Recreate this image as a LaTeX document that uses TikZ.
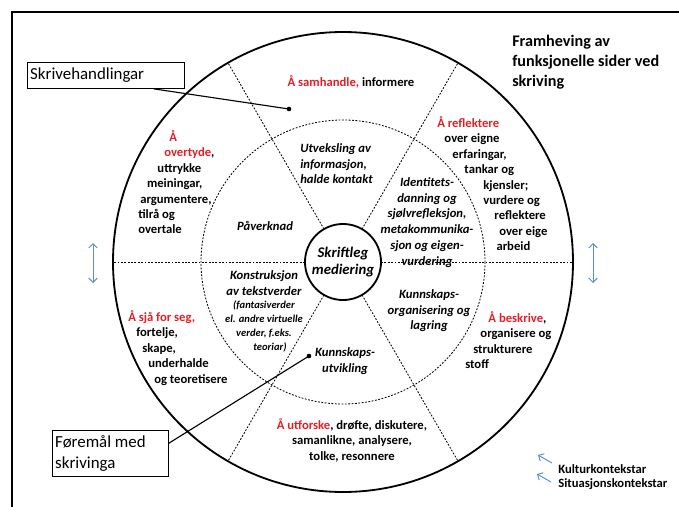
\documentclass[tikz,border=0pt]{standalone}
\usepackage{fontspec}
\setmainfont{Carlito}
\usetikzlibrary{calc}
\usetikzlibrary{positioning}
\usetikzlibrary{arrows.meta}
\definecolor{actred}{RGB}{228,30,38}
\definecolor{ctxblue}{RGB}{92,142,204}
\newcommand{\act}[1]{\textcolor{actred}{#1}}
\newcommand{\smallaim}{\fontsize{7.5}{9.6}\selectfont}

\begin{document}
\begin{tikzpicture}[x=0.025cm, y=-0.025cm,
        sector/.style={font=\bfseries\fontsize{9}{11}\selectfont, inner sep=0pt},
        aim/.style={font=\bfseries\itshape\fontsize{9}{11.3}\selectfont, inner sep=0pt},
        callout/.style={draw, line width=0.6pt, font=\fontsize{12}{14.5}\selectfont,
            align=flush left, inner sep=2pt},
        divider/.style={line width=0.6pt, dash pattern=on 1.3pt off 1.1pt},
        ctxarrow/.style={ctxblue, line width=0.7pt,
            {Straight Barb[length=3pt,width=6pt]}-{Straight Barb[length=3pt,width=6pt]}},
        ctxtip/.style={ctxblue, line width=0.7pt, -{Straight Barb[length=3pt,width=6pt]}},
        legend/.style={font=\bfseries\fontsize{9}{11}\selectfont, inner sep=0pt, anchor=base west}]
        \useasboundingbox (0,0) rectangle (679,507);

        % Frame
        \draw[line width=1.2pt] (12,507) -- (12,12) -- (679,12);

        % Circles
        \node[circle, draw, line width=1.3pt, minimum size=1.9cm, inner sep=0pt,
            font=\bfseries\itshape\fontsize{10.5}{12}\selectfont, align=center]
            (hub) at (343,262) {Skriftleg\\mediering};
        \draw[line width=1.3pt] (hub) circle[radius=230];
        \draw[divider] (hub) circle[radius=142];

        % Sector borders
        \foreach \a in {0,60,120,180,240,300} {
            \draw[divider] ($(hub)+(\a:38)$) -- ($(hub)+(\a:230)$);
        }

        % Writing acts (outer ring)
        \node[sector, anchor=center] (share) at (351,82) {\act{Å samhandle,} informere};
        \node[sector, align=left, anchor=north west] (persuade) at (138,130) {%
            \hspace*{0.78cm}\act{Å}\\
            \hspace*{0.65cm}\act{overtyde},\\
            \hspace*{0.48cm}uttrykke\\
            \hspace*{0.22cm}meiningar,\\
            \hspace*{0.05cm}argumentere,\\
            tilrå og\\
            overtale};
        \node[sector, align=left, anchor=north west] (reflect) at (437,116) {%
            \act{Å reflektere}\\
            \hspace*{0.18cm}over eigne\\
            \hspace*{0.38cm}erfaringar,\\
            \hspace*{0.68cm}tankar og\\
            \hspace*{1.15cm}kjensler;\\
            \hspace*{1.15cm}vurdere og\\
            \hspace*{1.43cm}reflektere\\
            \hspace*{1.55cm}over eige\\
            \hspace*{1.48cm}arbeid};
        \node[sector, align=left, anchor=north west] (imagine) at (128,310) {%
            \act{Å sjå for seg,}\\
            \hspace*{0.2cm}fortelje,\\
            \hspace*{0.35cm}skape,\\
            \hspace*{0.5cm}underhalde\\
            \hspace*{0.65cm}og teoretisere};
        \node[sector, align=left, anchor=north west] (describe) at (465,311) {%
            \hspace*{0.58cm}\act{Å beskrive},\\
            \hspace*{0.38cm}organisere og\\
            \hspace*{0.2cm}strukturere\\
            stoff};
        \node[sector, align=center, anchor=north] (explore) at (352,418) {%
            \act{Å utforske}, drøfte, diskutere,\\
            samanlikne, analysere,\\
            tolke, resonnere};

        % Purposes (inner ring)
        \node[aim, align=left, anchor=north west] (exchange) at (300,143)
            {Utveksling av\\informasjon,\\halde kontakt};
        \node[aim, align=center, anchor=north] (identity) at (427,177)
            {Identitets-\\danning og\\sjølvrefleksjon,\\metakommunika-\\sjon og eigen-\\vurdering};
        \node[aim] (influence) at (265,226) {Påverknad};
        \node[aim, align=center, anchor=north] (construct) at (264,270)
            {Konstruksjon\\av tekstverder\\[-2pt]{\smallaim(fantasiverder}\\[-1.3pt]{\smallaim el. andre virtuelle}\\[-1.3pt]
            {\smallaim verder, f.eks.}\\[-1.3pt]{\smallaim\hspace*{0.3cm}teoriar)}};
        \node[aim, align=center, anchor=north] (develop) at (345,347) {Kunnskaps-\\utvikling};
        \node[aim, align=center, anchor=north] (organise) at (429,289)
            {Kunnskaps-\\organisering og\\lagring};

        % Title
        \node[font=\bfseries\fontsize{11.5}{14}\selectfont, align=left, inner sep=0pt,
            anchor=north west] (title) at (512,35) {Framheving av\\funksjonelle sider ved\\skriving};

        % Callouts
        \node[callout, anchor=north west, text width=3.78cm, minimum height=0.65cm] (acts) at (27,62)
            {Skrivehandlingar};
        \coordinate (actsdot) at (289,109);
        \draw[line width=0.8pt] ($(acts.south east)+(-31,0)$) -- (actsdot);
        \fill (actsdot) circle[radius=2.3];

        \node[callout, anchor=north west, text width=2.75cm, minimum height=1.15cm] (aims) at (52,430)
            {Føremål med\\skrivinga};
        \coordinate (aimsdot) at (309,356);
        \draw[line width=0.8pt] ($(aims.east)+(0,-10)$) -- (aimsdot);
        \fill (aimsdot) circle[radius=2.3];

        % Context arrows
        \draw[ctxarrow] (93,243) -- (93,283);
        \draw[ctxarrow] (593,243) -- (593,283);
        \draw[ctxtip] (552,463) -- (538,455);
        \draw[ctxtip] (551,482) -- (537,474);
        \node[legend] (culture) at (558,473) {Kulturkontekstar};
        \node[legend] (situation) at (558,487) {Situasjonskontekstar};
\end{tikzpicture}
\end{document}
